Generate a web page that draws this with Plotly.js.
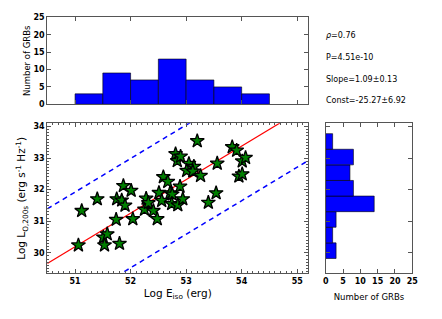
<!DOCTYPE html>
<html>
<head>
<meta charset="utf-8">
<script src="https://cdn.plot.ly/plotly-3.0.1.min.js"></script>
<style>html,body{margin:0;padding:0;background:#fff;}#chart{width:442px;height:319px;}</style>
</head>
<body>
<div id="chart"></div>
<script>
// Log E_iso (erg) for each GRB
const logEiso = [51.06,51.12,51.40,51.51,51.58,51.53,51.80,51.74,51.75,51.87,51.84,51.90,52.01,52.04,52.25,52.28,52.32,52.41,52.48,52.51,52.56,52.59,52.67,52.71,52.75,52.74,52.85,52.89,52.94,52.81,52.84,52.90,53.05,53.01,53.14,53.12,53.20,53.26,53.40,53.54,53.56,53.83,53.91,54.01,54.07,53.95,54.01];
// Log L_O,200s (erg s^-1 Hz^-1)
const logL200 = [30.24,31.33,31.70,30.49,30.59,30.24,30.29,31.05,31.70,32.12,31.66,31.50,31.97,31.07,31.37,31.72,31.58,31.33,31.07,31.90,31.65,32.40,32.25,31.89,31.85,31.55,31.51,32.10,31.70,33.13,32.91,33.05,32.82,32.60,32.73,32.58,33.54,32.44,31.59,31.89,32.83,33.35,33.24,32.90,33.01,32.42,32.49];
// fitted line as drawn, and its dashed band
const fitX = [50.5, 55.2];
const fitSlope = 1.062;
const fitConst = -23.97;
const bandOffset = 1.73;
// stats text
const statLines = ['<i>ρ</i>=0.76', 'P=4.51e-10', 'Slope=1.09±0.13', 'Const=-25.27±6.92'];
const xTicks = [51, 52, 53, 54, 55];
const yTicks = [30, 31, 32, 33, 34];
const countTicks = [0, 5, 10, 15, 20, 25];

const fitY = fitX.map(x => fitSlope * x + fitConst);
const upY = fitY.map(y => y + bandOffset);
const loY = fitY.map(y => y - bandOffset);

const W = 442, H = 319;
const px = v => v / W, py = v => 1 - v / H;
const mainX = [px(47.3), px(308.3)];
const mainY = [py(273.3), py(123.3)];
const topY = [py(104.3), py(17.3)];
const rightX = [px(325.7), px(412.3)];

const tickFont = {family: 'DejaVu Sans', size: 8, color: '#000', weight: 'bold'};
const frame = {showline: true, linecolor: '#555', linewidth: 1, mirror: 'allticks', ticks: 'inside', tickcolor: '#555', ticklen: 4, showgrid: false, zeroline: false, tickfont: tickFont};
const titleFont = {family: 'DejaVu Sans', size: 10.5, color: '#000'};
const smallTitleFont = {family: 'DejaVu Sans', size: 8.5, color: '#000'};

const traces = [
  {x: fitX, y: upY, mode: 'lines', line: {color: '#0000ff', width: 1.5, dash: '5px,4px'}, xaxis: 'x', yaxis: 'y', hoverinfo: 'skip'},
  {x: fitX, y: loY, mode: 'lines', line: {color: '#0000ff', width: 1.5, dash: '5px,4px'}, xaxis: 'x', yaxis: 'y', hoverinfo: 'skip'},
  {x: fitX, y: fitY, mode: 'lines', line: {color: '#ff0000', width: 1.2}, xaxis: 'x', yaxis: 'y'},
  {x: logEiso, y: logL200, mode: 'markers', marker: {symbol: 'star', size: 10.5, color: '#007f00', line: {color: '#000', width: 1.3}}, xaxis: 'x', yaxis: 'y'},
  {type: 'histogram', x: logEiso, xbins: {start: 51, end: 55, size: 0.5}, marker: {color: '#0000ff', line: {color: '#000', width: 0.6}}, xaxis: 'x2', yaxis: 'y2'},
  {type: 'histogram', y: logL200, ybins: {start: 29.82, end: 33.78, size: 0.494}, marker: {color: '#0000ff', line: {color: '#000', width: 0.6}}, xaxis: 'x3', yaxis: 'y3'}
];

const ann = [];
const statY = [35, 57.3, 79.3, 100.7];
statLines.forEach((t, i) => ann.push({xref: 'paper', yref: 'paper', x: px(324), y: py(statY[i]), xanchor: 'left', yanchor: 'middle', text: t, showarrow: false, font: {family: 'DejaVu Sans', size: 8, color: '#000'}}));

const layout = {
  width: W, height: H, margin: {l: 0, r: 0, t: 0, b: 0}, paper_bgcolor: '#fff', plot_bgcolor: '#fff',
  showlegend: false, bargap: 0,
  xaxis: Object.assign({}, frame, {domain: mainX, range: [50.5, 55.2], tickvals: xTicks, anchor: 'y',
    title: {text: 'Log E<sub>iso</sub> (erg)', font: titleFont, standoff: 4},
    minor: {dtick: 0.1, ticks: 'inside', ticklen: 2, tickcolor: '#555'}}),
  yaxis: Object.assign({}, frame, {domain: mainY, range: [29.35, 34.1], tickvals: yTicks, anchor: 'x',
    title: {text: 'Log L<sub>O,200s</sub> (erg s<sup>-1</sup> Hz<sup>-1</sup>)', font: titleFont, standoff: 5},
    minor: {dtick: 0.1, ticks: 'inside', ticklen: 2, tickcolor: '#555'}}),
  xaxis2: Object.assign({}, frame, {domain: mainX, range: [50.5, 55.2], tickvals: xTicks, showticklabels: false, anchor: 'y2'}),
  yaxis2: Object.assign({}, frame, {domain: topY, range: [0, 25], tickvals: countTicks, anchor: 'x2',
    title: {text: 'Number of GRBs', font: smallTitleFont, standoff: 1}}),
  xaxis3: Object.assign({}, frame, {domain: rightX, range: [0, 25], tickvals: countTicks, anchor: 'y3',
    title: {text: 'Number of GRBs', font: smallTitleFont, standoff: 9}}),
  yaxis3: Object.assign({}, frame, {domain: mainY, range: [29.35, 34.1], tickvals: yTicks, showticklabels: false, anchor: 'x3'}),
  annotations: ann
};
Plotly.newPlot('chart', traces, layout, {staticPlot: true, displayModeBar: false});
</script>
</body>
</html>
